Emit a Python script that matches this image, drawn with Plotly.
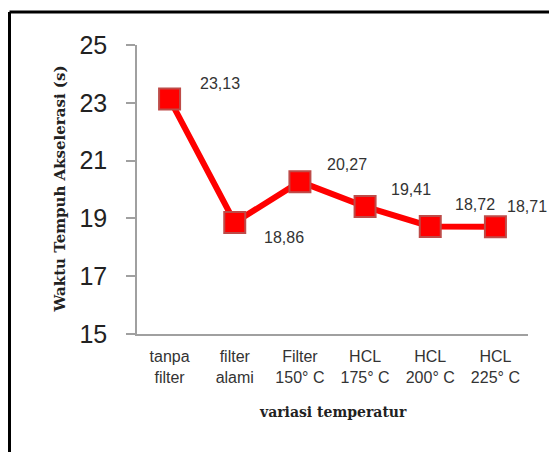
import plotly.graph_objects as go

categories = ["tanpa<br>filter", "filter<br>alami", "Filter<br>150° C", "HCL<br>175° C", "HCL<br>200° C", "HCL<br>225° C"]
values = [23.13, 18.86, 20.27, 19.41, 18.72, 18.71]
value_labels = ["23,13", "18,86", "20,27", "19,41", "18,72", "18,71"]
label_shift_x = [50, 49, 47, 46, 45, 32]
label_shift_y = [16, -15, 17, 17, 22, 20]
y_ticks = [15, 17, 19, 21, 23, 25]

x_idx = list(range(len(categories)))

# page body has an 8px margin; figure is sized/offset to compensate
W, H = 549, 444
L, R, T, B = 129, 29, 37, 118
pw, ph = W - L - R, H - T - B

def px_x(x):
    return (x - L) / pw

def px_y(y):
    return 1 - (y - T) / ph

fig = go.Figure()
fig.add_trace(go.Scatter(
    x=x_idx, y=values, mode="lines+markers",
    line=dict(color="#ff0000", width=6),
    marker=dict(symbol="square", size=21, color="#ff0000",
                line=dict(color="#be4b48", width=2)),
    hoverinfo="skip", showlegend=False,
))

for xi, v, t, sx, sy in zip(x_idx, values, value_labels, label_shift_x, label_shift_y):
    fig.add_annotation(x=xi, y=v, xref="x", yref="y", text=t, showarrow=False,
                       xshift=sx, yshift=sy,
                       font=dict(family="Liberation Sans", size=16, color="#333333"))

fig.add_annotation(x=px_x(51), y=0.5, xref="paper", yref="paper",
                   text="<b>Waktu Tempuh Akselerasi (s)</b>", textangle=-90,
                   showarrow=False, xanchor="center", yanchor="middle",
                   font=dict(family="DejaVu Serif", size=15, color="#222222"))
fig.add_annotation(x=0.5, y=px_y(404), xref="paper", yref="paper",
                   text="<b>variasi temperatur</b>",
                   showarrow=False, xanchor="center", yanchor="middle",
                   font=dict(family="DejaVu Serif", size=14, color="#222222"))

# frame around chart
fx, fy = px_x(1.5), px_y(4)
fig.add_shape(type="line", xref="paper", yref="paper", x0=fx, x1=1.3, y0=fy, y1=fy,
              line=dict(color="black", width=3))
fig.add_shape(type="line", xref="paper", yref="paper", x0=fx, x1=fx, y0=fy, y1=-0.6,
              line=dict(color="black", width=3))

fig.update_layout(
    width=W, height=H,
    margin=dict(l=L, r=R, t=T, b=B, autoexpand=False),
    plot_bgcolor="white", paper_bgcolor="white",
    xaxis=dict(
        range=[-0.5, 5.5], tickmode="array", tickvals=x_idx, ticktext=categories,
        showgrid=False, zeroline=False, showline=True, linecolor="#a0a0a0", linewidth=1.5,
        ticks="", ticklabelstandoff=7,
        tickfont=dict(family="Liberation Sans", size=16, color="#333333"),
        automargin=False,
    ),
    yaxis=dict(
        range=[15, 25], tickmode="array", tickvals=y_ticks,
        showgrid=False, zeroline=False, showline=True, linecolor="#a0a0a0", linewidth=1.5,
        ticks="outside", ticklen=9, tickcolor="#a0a0a0", tickwidth=1.5,
        ticklabelstandoff=14,
        tickfont=dict(family="Liberation Sans", size=25, color="#222222"),
        automargin=False,
    ),
)

fig.write_html("out.html")
